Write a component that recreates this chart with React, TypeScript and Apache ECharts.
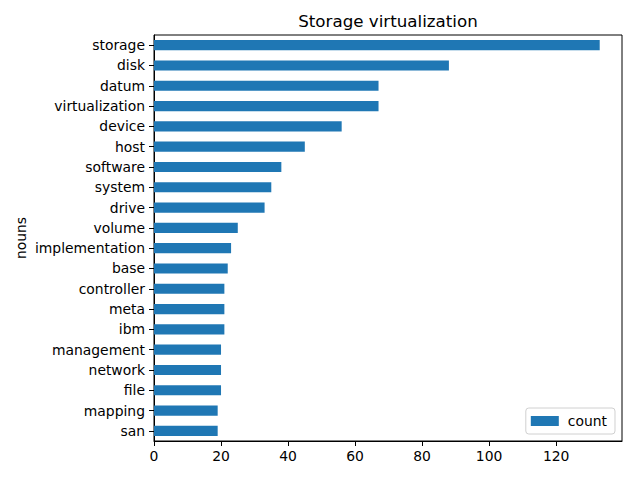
import React, { useEffect, useRef } from "react";
import * as echarts from "echarts";

const categories = [
  "storage", "disk", "datum", "virtualization", "device", "host", "software",
  "system", "drive", "volume", "implementation", "base", "controller", "meta",
  "ibm", "management", "network", "file", "mapping", "san",
];
const counts = [133, 88, 67, 67, 56, 45, 38, 35, 33, 25, 23, 22, 21, 21, 21, 20, 20, 20, 19, 19];
const xTicks = [0, 20, 40, 60, 80, 100, 120];

const FONT = "DejaVu Sans";

export default function App() {
  const ref = useRef<HTMLDivElement>(null);
  useEffect(() => {
    if (!ref.current) return;
    const chart = echarts.init(ref.current, null, { renderer: "svg" });
    const maxVal = Math.max(...counts) * 1.05;
    chart.setOption({
      animation: false,
      textStyle: { fontFamily: FONT },
      grid: {
        left: 154,
        right: 18,
        top: 35,
        bottom: 39,
        show: true,
        borderColor: "#000",
        borderWidth: 1,
        backgroundColor: "transparent",
      },
      graphic: [
        {
          type: "text",
          x: 388,
          y: 21,
          style: {
            text: "Storage virtualization",
            fontFamily: FONT,
            fontSize: 16.7,
            fill: "#000",
            textAlign: "center",
            textVerticalAlign: "middle",
          },
        },
        {
          type: "text",
          x: 21,
          y: 238,
          rotation: Math.PI / 2,
          style: {
            text: "nouns",
            fontFamily: FONT,
            fontSize: 13.9,
            fill: "#000",
            textAlign: "center",
            textVerticalAlign: "middle",
          },
        },
      ],
      legend: {
        right: 25,
        bottom: 46,
        itemWidth: 28,
        itemHeight: 10,
        itemGap: 10,
        borderColor: "#d0d0d0",
        borderWidth: 1,
        borderRadius: 3,
        padding: [6, 8, 6, 5],
        textStyle: { fontFamily: FONT, fontSize: 13.9, color: "#000", padding: [0, 0, 0, 4] },
        data: [{ name: "count", icon: "rect" }],
      },
      xAxis: {
        type: "value",
        min: 0,
        max: maxVal,
        interval: 20,
        splitLine: { show: false },
        axisLine: { show: true, lineStyle: { color: "#000" } },
        axisTick: { show: true, length: 5, lineStyle: { color: "#000" }, customValues: xTicks },
        axisLabel: {
          fontFamily: FONT,
          fontSize: 13.9,
          color: "#000",
          margin: 8,
          customValues: xTicks,
        },
      },
      yAxis: {
        type: "category",
        data: categories,
        inverse: true,
        axisLine: { show: true, lineStyle: { color: "#000" } },
        axisTick: { show: true, length: 5, alignWithLabel: true, lineStyle: { color: "#000" } },
        axisLabel: { fontFamily: FONT, fontSize: 13.9, color: "#000", margin: 9 },
      },
      series: [
        {
          name: "count",
          type: "bar",
          data: counts,
          barWidth: "50%",
          itemStyle: { color: "#1f77b4" },
        },
      ],
    });
    return () => chart.dispose();
  }, []);
  return <div ref={ref} style={{ width: 640, height: 480, position: "absolute", left: 0, top: 0 }} />;
}
